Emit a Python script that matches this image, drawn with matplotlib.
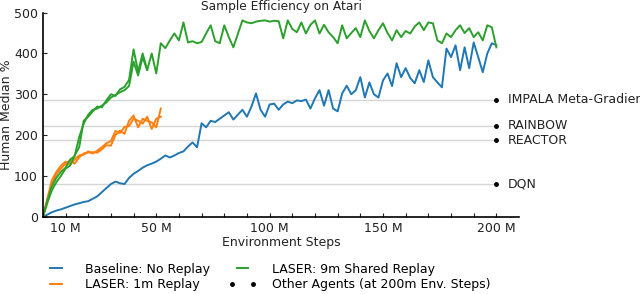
import numpy as np
import matplotlib
matplotlib.use("Agg")
import matplotlib.pyplot as plt
from matplotlib.lines import Line2D
from matplotlib.legend_handler import HandlerLine2D

# ---- data (Human Median %, x in millions of environment steps) ----
steps_full = list(range(0, 201, 2))
baseline = [0, 5, 11, 15, 18, 22, 26, 30, 33, 36, 38, 44, 50, 60, 70, 80, 86, 82, 80, 95,
            105, 112, 120, 126, 130, 135, 142, 150, 145, 150, 156, 160, 172, 182, 170, 229,
            219, 235, 232, 240, 248, 256, 238, 250, 262, 245, 270, 302, 262, 245, 275, 277,
            262, 275, 282, 278, 285, 283, 287, 265, 290, 310, 272, 310, 265, 258, 302, 321,
            300, 310, 342, 292, 329, 300, 292, 334, 351, 320, 376, 342, 364, 340, 327, 359,
            330, 383, 342, 329, 317, 412, 391, 420, 359, 415, 364, 427, 391, 354, 400, 425, 420]
laser_9m = [0, 40, 75, 96, 110, 120, 140, 148, 195, 228, 250, 262, 265, 272, 280, 292, 298,
            305, 310, 320, 380, 346, 391, 359, 400, 351, 425, 413, 432, 449, 432, 476, 427,
            430, 425, 428, 449, 469, 430, 425, 469, 440, 415, 448, 481, 476, 474, 478, 480,
            481, 478, 480, 479, 437, 481, 460, 452, 476, 449, 470, 481, 449, 470, 452, 440,
            425, 469, 437, 450, 462, 440, 481, 455, 437, 457, 474, 450, 432, 457, 440, 455,
            449, 466, 476, 457, 476, 474, 432, 425, 449, 440, 457, 469, 450, 462, 440, 452,
            432, 469, 464, 415]
steps_9m_b = list(range(0, 47, 2))
laser_9m_b = [0, 35, 65, 85, 100, 118, 125, 150, 170, 235, 245, 258, 270, 268, 285, 300,
              296, 312, 318, 335, 410, 355, 400, 360]
steps_1m = list(range(0, 53, 2))
laser_1m = [0, 35, 80, 105, 118, 130, 137, 130, 145, 155, 157, 158, 157, 165, 175, 174,
            200, 211, 203, 235, 248, 219, 240, 235, 231, 219, 265]
laser_1m_b = [0, 45, 90, 110, 125, 135, 128, 140, 150, 152, 160, 155, 162, 170, 180, 185,
              210, 205, 220, 222, 240, 235, 228, 245, 215, 240, 245]

agent_names = ["IMPALA Meta-Gradient", "RAINBOW", "REACTOR", "DQN"]
agent_scores = [287, 223, 187, 79]
agent_step = 200

xtick_pos = list(range(10, 201, 10))
xtick_labels = {10: "10 M", 50: "50 M", 100: "100 M", 150: "150 M", 200: "200 M"}
ytick_pos = [0, 100, 200, 300, 400, 500]

BLUE, ORANGE, GREEN = "#1f77b4", "#ff7f0e", "#2ca02c"
TXT = "#222222"

fig = plt.figure(figsize=(6.4, 2.94), dpi=100)
ax = fig.add_axes([0.067, 0.263, 0.744, 0.694])

for name, score in zip(agent_names, agent_scores):
    ax.plot([0, agent_step], [score, score], color="#d6d6d6", lw=1.0, zorder=1)
    ax.plot([agent_step], [score], "o", color="black", ms=2.5, zorder=3, clip_on=False)
    ax.text(agent_step + 5, score, name, va="center", ha="left", fontsize=9,
            color=TXT, clip_on=False)

ax.plot(steps_full, baseline, color=BLUE, lw=1.4, zorder=2)
ax.plot(steps_1m, laser_1m, color=ORANGE, lw=1.4, zorder=2)
ax.plot(steps_1m, laser_1m_b, color=ORANGE, lw=1.4, zorder=2)
ax.plot(steps_full, laser_9m, color=GREEN, lw=1.4, zorder=2)
ax.plot(steps_9m_b, laser_9m_b, color=GREEN, lw=1.4, zorder=2)

ax.set_xlim(0, 210)
ax.set_ylim(0, 500)
ax.set_xticks(xtick_pos)
ax.set_xticklabels([xtick_labels.get(p, "") for p in xtick_pos])
ax.set_yticks(ytick_pos)
ax.tick_params(direction="in", length=3, width=0.8, labelsize=9, colors=TXT)
for s in ["top", "right"]:
    ax.spines[s].set_visible(False)
for s in ["left", "bottom"]:
    ax.spines[s].set_linewidth(1.2)
    ax.spines[s].set_color("black")

ax.set_title("Sample Efficiency on Atari", fontsize=8.8, pad=1.2, color=TXT)
ax.set_xlabel("Environment Steps", fontsize=9, labelpad=1, color=TXT)
ax.set_ylabel("Human Median %", fontsize=9, labelpad=1, color=TXT)

dots = Line2D([], [], color="black", lw=0, marker="o", ms=2.5)
handles = [
    Line2D([], [], color=BLUE, lw=1.4),
    Line2D([], [], color=ORANGE, lw=1.4),
    Line2D([], [], color=GREEN, lw=1.4),
    dots,
]
labels = ["Baseline: No Replay", "LASER: 1m Replay", "LASER: 9m Shared Replay",
          "Other Agents (at 200m Env. Steps)"]
fig.legend(handles, labels, loc="upper left", bbox_to_anchor=(0.073, 0.106),
           ncol=2, frameon=False, fontsize=9, handlelength=1.5, handletextpad=1.6,
           columnspacing=1.8, labelspacing=0.2, numpoints=2, borderpad=0,
           borderaxespad=0,
           handler_map={dots: HandlerLine2D(marker_pad=-0.1, numpoints=2)})

fig.savefig("out.png", dpi=100)
